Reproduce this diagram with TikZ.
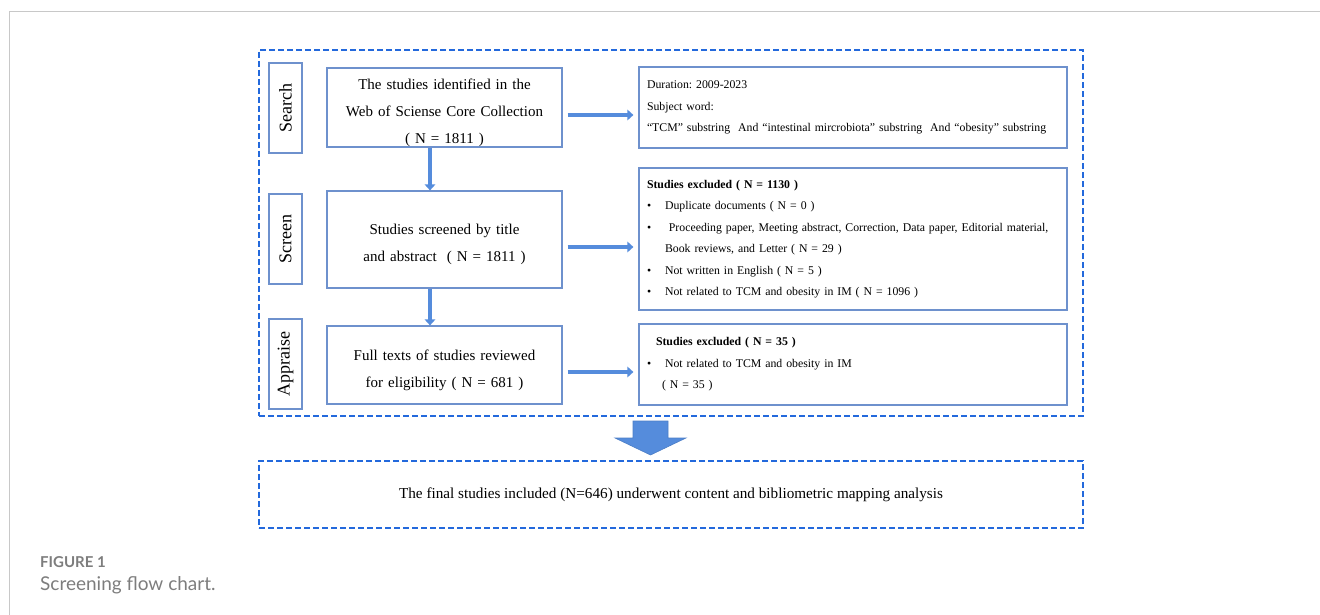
\documentclass[tikz,border=0pt]{standalone}
\usepackage{fontspec}
\setmainfont{Liberation Serif}
\newfontfamily\capfont{Lato}
\frenchspacing
\definecolor{dashblue}{RGB}{35, 105, 220}
\definecolor{boxblue}{RGB}{110, 145, 205}
\definecolor{arrowblue}{RGB}{85, 140, 220}
\definecolor{framegray}{RGB}{200, 200, 200}
\definecolor{capgray}{RGB}{125, 125, 125}
\usetikzlibrary{arrows.meta, positioning, calc}

\tikzset{
  dashbox/.style={draw=dashblue, line width=2pt, dash pattern=on 6pt off 3pt, inner sep=0pt},
  stagebox/.style={draw=boxblue, line width=1.2pt, minimum width=90pt, minimum height=33pt, rotate=90, inner sep=0pt, font=\fontsize{18}{20}\selectfont},
  midbox/.style={draw=boxblue, line width=1.2pt, minimum width=235pt, text width=225pt, align=center, inner xsep=5pt, inner ysep=0pt, font=\fontsize{15}{27}\selectfont, execute at begin node={\rule{0pt}{21pt}}},
  notebox/.style={draw=boxblue, line width=1.2pt, minimum width=428pt, text width=412pt, align=left, inner xsep=8pt, inner ysep=0pt, font=\fontsize{11.8}{21.5}\selectfont},
  flowarrow/.style={draw=arrowblue, line width=4.8pt, -{Triangle[width=10.5pt, length=6pt]}}
}
\newcommand{\bul}{\makebox[18pt][l]{\textbullet}}

\begin{document}
\begin{tikzpicture}[x=1pt, y=-1pt]
  \useasboundingbox (0,0) rectangle (1320,615);

  % Page frame
  \draw[framegray, line width=1pt] (9,615) -- (9,12) -- (1320,12);

  % Outer dashed frame and final box
  \node[dashbox, minimum width=824pt, minimum height=366pt] (stage) at (671,233) {};
  \node[dashbox, minimum width=824pt, minimum height=67pt, font=\fontsize{15.2}{18}\selectfont] (final) at (671,494.5)
    {The final studies included (N=646) underwent content and bibliometric mapping analysis};

  % Stage labels
  \node[stagebox] (lsearch) at (285.5,108) {Search};
  \node[stagebox] (lscreen) at (285.5,239) {Screen};
  \node[stagebox] (lappraise) at (285.5,364) {Appraise};

  % Middle column
  \node[midbox, minimum height=79pt] (srch) at (444.5,107.5) {
    The studies identified in the\\
    Web of Sciense Core Collection\\
    ( N = 1811 )
  };
  \node[midbox, minimum height=97pt] (scrn) at (444.5,239.5) {
    Studies screened by title\\
    and abstract \ ( N = 1811 )
  };
  \node[midbox, minimum height=78pt] (appr) at (444.5,365) {
    Full texts of studies reviewed\\
    for eligibility ( N = 681 )
  };

  % Right column
  \node[notebox, minimum height=81pt] (nsrch) at (853,107.5) {
    Duration: 2009-2023\\
    Subject word:\\
    ``TCM'' substring \ And ``intestinal mircrobiota'' substring \ And ``obesity'' substring
  };
  \node[notebox, minimum height=142pt] (nscrn) at (853,239) {
    \textbf{Studies excluded ( N = 1130 )}\\
    \bul Duplicate documents ( N = 0 )\\
    \bul\ Proceeding paper, Meeting abstract, Correction, Data paper, Editorial material,\\
    \hspace*{18pt}Book reviews, and Letter ( N = 29 )\\
    \bul Not written in English ( N = 5 )\\
    \bul Not related to TCM and obesity in IM ( N = 1096 )
  };
  \node[notebox, minimum height=81pt] (nappr) at (853,364.5) {
    \hspace*{9pt}\textbf{Studies excluded ( N = 35 )}\\
    \bul Not related to TCM and obesity in IM\\
    \hspace*{15pt}( N = 35 )
  };

  % Arrows
  \draw[flowarrow] ([xshift=-14.5pt]srch.south) -- ([xshift=-14.5pt]scrn.north);
  \draw[flowarrow] ([xshift=-14.5pt]scrn.south) -- ([xshift=-14.5pt]appr.north);
  \draw[flowarrow] ([xshift=5pt, yshift=-7.5pt]srch.east) -- ([xshift=-5pt, yshift=-7.5pt]nsrch.west);
  \draw[flowarrow] ([xshift=5pt, yshift=-7.5pt]scrn.east) -- ([xshift=-5pt, yshift=-8pt]nscrn.west);
  \draw[flowarrow] ([xshift=5pt, yshift=-7pt]appr.east) -- ([xshift=-5pt, yshift=-7.5pt]nappr.west);

  % Big arrow to final box
  \filldraw[fill=arrowblue, draw=arrowblue!90!black, line width=0.6pt]
    (633,421) -- (668,421) -- (668,438) -- (686,438) -- (650.5,455) -- (615,438) -- (633,438) -- cycle;

  % Caption
  \node[anchor=west, font=\capfont\bfseries\fontsize{15}{18}\selectfont, text=capgray, inner sep=0pt] (figno) at (40,562) {FIGURE 1};
  \node[anchor=west, font=\capfont\fontsize{19}{22}\selectfont, text=capgray, inner sep=0pt] (figcap) at (40,585) {Screening flow chart.};
\end{tikzpicture}
\end{document}
